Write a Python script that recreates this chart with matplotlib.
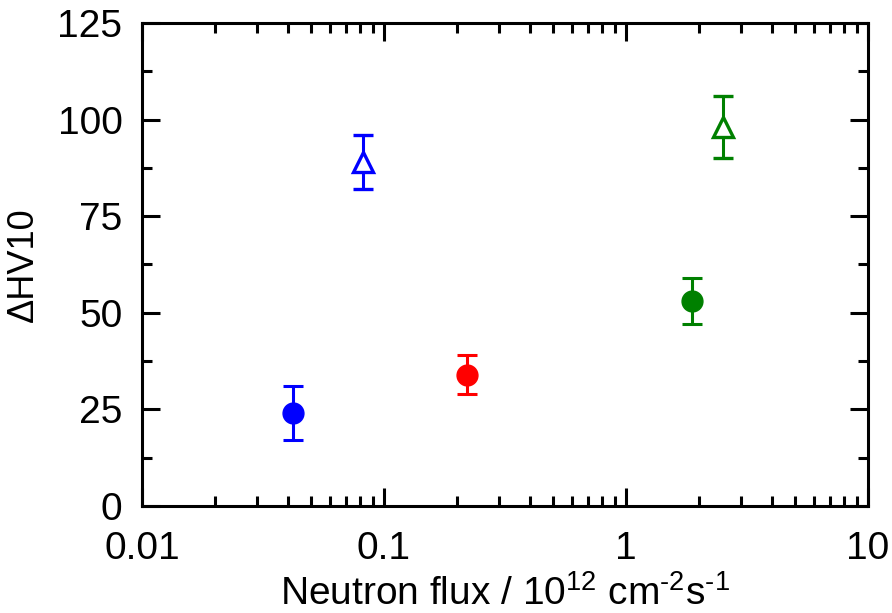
import matplotlib
matplotlib.use('Agg')
import matplotlib.pyplot as plt
from matplotlib.ticker import LogLocator, MultipleLocator, FixedLocator, FixedFormatter, NullFormatter

plt.rcParams['font.family'] = ['Liberation Sans', 'DejaVu Sans']
plt.rcParams['mathtext.fontset'] = 'custom'
plt.rcParams['mathtext.rm'] = 'Liberation Sans'

# measured points: flux (1e12 cm^-2 s^-1), delta HV10, error, colour, marker
flux = [0.042, 0.082, 0.22, 1.88, 2.52]
dhv = [24, 89, 34, 53, 98]
err = [7, 7, 5, 6, 8]
colors = ['#0000ff', '#0000ff', '#ff0000', '#008000', '#008000']
markers = ['o', '^', 'o', 'o', '^']

fig = plt.figure(figsize=(8.92, 6.13), dpi=100)
ax = fig.add_axes([0.159, 0.1746, 0.814, 0.788])

for x, y, e, c, m in zip(flux, dhv, err, colors, markers):
    if m == 'o':
        ax.errorbar(x, y, yerr=e, fmt='o', color=c, ms=15, mec=c, mfc=c,
                    elinewidth=2.2, capsize=7, capthick=2.2, zorder=3)
    else:
        ax.errorbar(x, y, yerr=e, fmt='^', color=c, ms=15, mec=c, mfc='white',
                    mew=2.4, elinewidth=2.2, capsize=7, capthick=2.2, zorder=3)

ax.set_xscale('log')
ax.set_xlim(0.01, 10)
ax.set_ylim(0, 125)

ax.xaxis.set_major_locator(FixedLocator([0.01, 0.1, 1, 10]))
ax.xaxis.set_major_formatter(FixedFormatter(['0.01', '0.1', '1', '10']))
ax.xaxis.set_minor_locator(LogLocator(base=10, subs=range(2, 10)))
ax.xaxis.set_minor_formatter(NullFormatter())
ax.yaxis.set_major_locator(MultipleLocator(25))
ax.yaxis.set_minor_locator(MultipleLocator(12.5))

ax.tick_params(which='both', direction='in', top=True, right=True, width=2.2,
               labelsize=28)
ax.tick_params(axis='x', pad=18)
ax.tick_params(axis='y', pad=14)
ax.tick_params(which='major', length=13)
ax.tick_params(which='minor', length=7)
for s in ax.spines.values():
    s.set_linewidth(2.2)

ax.set_xlabel(r'Neutron flux / 10$^{12}$ cm$^{\text{-}2}$s$^{\text{-}1}$',
              fontsize=28, labelpad=6)
ax.set_ylabel('ΔHV10', fontsize=26, labelpad=12)

fig.savefig('out.png', dpi=100)
